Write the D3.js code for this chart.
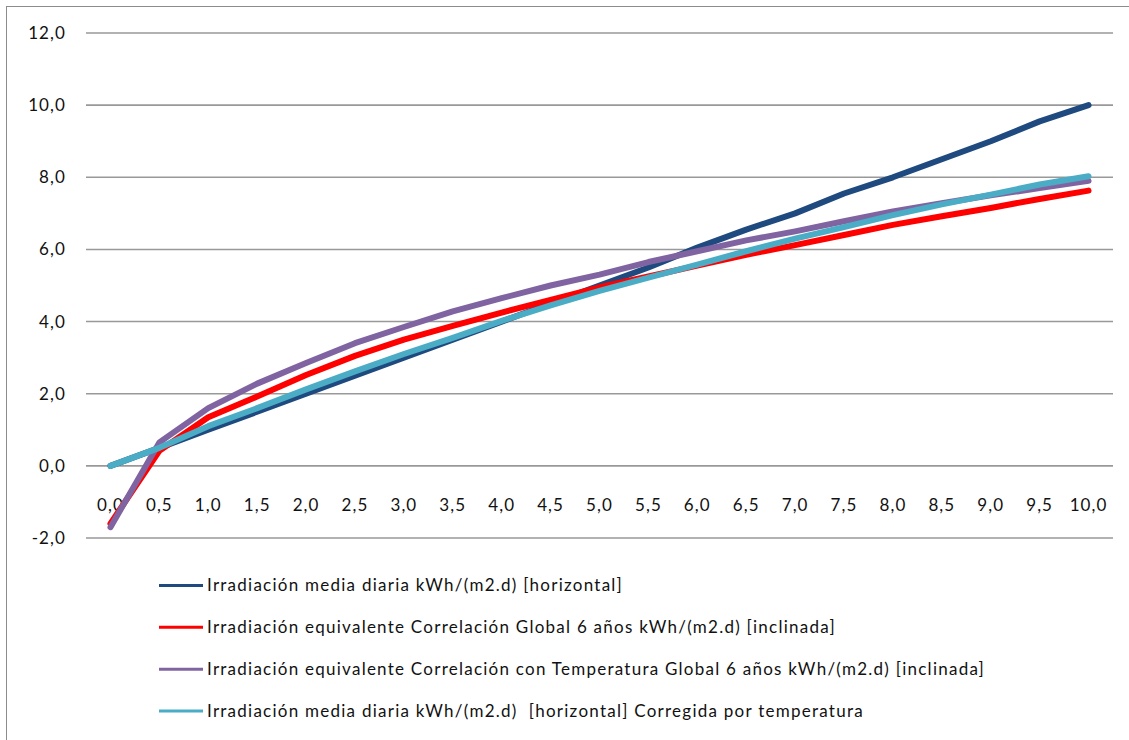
<!DOCTYPE html>
<html>
<head>
<meta charset="utf-8">
<script src="https://cdn.jsdelivr.net/npm/d3@7"></script>
<style>
  html, body { margin: 0; padding: 0; background: #ffffff; }
  svg { display: block; font-family: Lato, "Open Sans", sans-serif; }
</style>
</head>
<body>
<svg id="chart" width="1129" height="740"></svg>
<script>
// Category labels (irradiation steps)
const categories = ["0,0","0,5","1,0","1,5","2,0","2,5","3,0","3,5","4,0","4,5","5,0",
                    "5,5","6,0","6,5","7,0","7,5","8,0","8,5","9,0","9,5","10,0"];

// Series values, kWh/(m2.d)
const horizontal = [0, 0.5, 1.0, 1.5, 2.0, 2.5, 3.0, 3.5, 4.0, 4.5, 5.0,
                    5.5, 6.05, 6.55, 7.0, 7.55, 8.0, 8.5, 9.0, 9.55, 10.0];
const correlGlobal = [-1.6, 0.42, 1.35, 1.92, 2.52, 3.05, 3.5, 3.88, 4.25, 4.6, 4.95,
                      5.25, 5.55, 5.85, 6.12, 6.4, 6.68, 6.92, 7.15, 7.4, 7.63];
const correlTemp = [-1.7, 0.65, 1.6, 2.28, 2.85, 3.4, 3.85, 4.28, 4.65, 5.0, 5.3,
                    5.65, 5.95, 6.25, 6.5, 6.78, 7.05, 7.28, 7.5, 7.7, 7.9];
const corrected = [0, 0.5, 1.1, 1.6, 2.12, 2.62, 3.1, 3.55, 4.02, 4.45, 4.85,
                   5.22, 5.58, 5.95, 6.3, 6.62, 6.95, 7.25, 7.52, 7.8, 8.03];

// Value axis ticks
const yTicks = [-2, 0, 2, 4, 6, 8, 10, 12];

// Series names and colours
const seriesNames = [
  "Irradiación media diaria kWh/(m2.d) [horizontal]",
  "Irradiación equivalente Correlación Global 6 años kWh/(m2.d) [inclinada]",
  "Irradiación equivalente Correlación con Temperatura Global 6 años kWh/(m2.d) [inclinada]",
  "Irradiación media diaria kWh/(m2.d)  [horizontal] Corregida por temperatura"
];
const seriesColors = ["#1f4a7f", "#ff0000", "#8064a2", "#4bacc6"];
const seriesValues = [horizontal, correlGlobal, correlTemp, corrected];

const svg = d3.select("#chart");

// Outer chart frame
svg.append("rect")
  .attr("x", 6.5).attr("y", 6.5)
  .attr("width", 1140).attr("height", 760)
  .attr("fill", "none").attr("stroke", "#8c8c8c").attr("stroke-width", 1);

const plot = { left: 86, right: 1113, top: 33, bottom: 538 };

const x = d3.scaleBand().domain(categories).range([plot.left, plot.right]);
const y = d3.scaleLinear().domain([-2, 12]).range([plot.bottom, plot.top]);
const cx = c => x(c) + x.bandwidth() / 2;

// Spanish number style: comma decimal, plain hyphen minus
const esLocale = d3.formatLocale({ decimal: ",", thousands: ".", grouping: [3], currency: ["", " €"], minus: "-" });
const fmt = esLocale.format(".1f");

const labelFont = { size: 17, spacing: 1.1, color: "#111111" };

// Horizontal gridlines
svg.append("g")
  .selectAll("line")
  .data(yTicks)
  .join("line")
  .attr("x1", plot.left).attr("x2", plot.right)
  .attr("y1", d => y(d)).attr("y2", d => y(d))
  .attr("stroke", "#999999").attr("stroke-width", 1.6);

// Value axis labels
const yAxis = svg.append("g")
  .attr("transform", `translate(${plot.left},0)`)
  .call(d3.axisLeft(y).tickValues(yTicks).tickFormat(fmt).tickSize(0).tickPadding(20));
yAxis.select(".domain").remove();
yAxis.selectAll("text")
  .attr("font-size", labelFont.size).attr("fill", labelFont.color)
  .attr("font-family", "Lato, sans-serif")
  .attr("letter-spacing", labelFont.spacing);

// Category axis labels, attached to the zero line
const xAxis = svg.append("g")
  .attr("transform", `translate(0,${y(0)})`)
  .call(d3.axisBottom(x).tickSize(0).tickPadding(33));
xAxis.select(".domain").remove();
xAxis.selectAll("text")
  .attr("font-size", labelFont.size).attr("fill", labelFont.color)
  .attr("font-family", "Lato, sans-serif")
  .attr("letter-spacing", labelFont.spacing);

// Series lines
const line = d3.line()
  .x((d, i) => cx(categories[i]))
  .y(d => y(d));

svg.append("g")
  .selectAll("path")
  .data(seriesValues)
  .join("path")
  .attr("d", d => line(d))
  .attr("fill", "none")
  .attr("stroke", (d, i) => seriesColors[i])
  .attr("stroke-width", 6)
  .attr("stroke-linecap", "round")
  .attr("stroke-linejoin", "round");

// Legend
const legendY = d3.scaleLinear().domain([0, 3]).range([585.5, 711]);
const legend = svg.append("g")
  .selectAll("g")
  .data(seriesNames)
  .join("g")
  .attr("transform", (d, i) => `translate(159,${legendY(i)})`);

legend.append("line")
  .attr("x1", 0).attr("x2", 44)
  .attr("stroke", (d, i) => seriesColors[i])
  .attr("stroke-width", 3);

legend.append("text")
  .attr("x", 48).attr("dy", "0.35em")
  .attr("font-size", labelFont.size).attr("fill", labelFont.color)
  .attr("letter-spacing", 1.25)
  .style("white-space", "pre")
  .text(d => d);
</script>
</body>
</html>
